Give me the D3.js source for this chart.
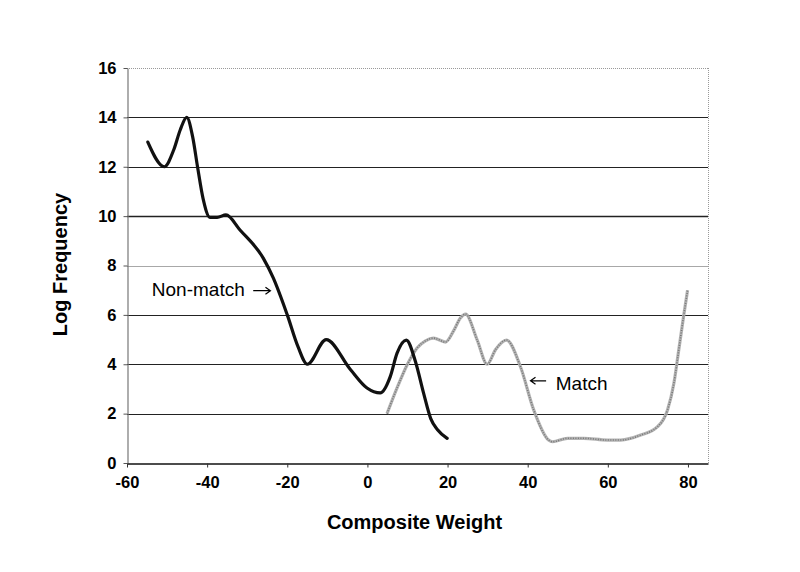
<!DOCTYPE html>
<html>
<head>
<meta charset="utf-8">
<script src="https://cdn.jsdelivr.net/npm/d3@7"></script>
<style>
  html, body { margin: 0; padding: 0; background: #fff; }
  svg { display: block; }
  text { font-family: "Liberation Sans", Arial, Helvetica, sans-serif; }
</style>
</head>
<body>
<svg id="chart" width="800" height="572"></svg>
<script>
// ---- Data ----
const xTicks = [-60, -40, -20, 0, 20, 40, 60, 80];
const yTicks = [0, 2, 4, 6, 8, 10, 12, 14, 16];

const nonMatch = [
  [-54.8, 13.0], [-50.7, 12.0], [-48.3, 12.7], [-46.7, 13.5], [-45.1, 14.0],
  [-43.6, 13.2], [-42.4, 12.0], [-41.0, 10.7], [-39.3, 9.95], [-37.5, 9.95],
  [-35.3, 10.05], [-31.8, 9.44], [-26.0, 8.3], [-23.5, 7.5], [-20.0, 6.0],
  [-17.3, 4.7], [-15.0, 4.0], [-10.3, 5.0], [-4.3, 3.8], [-0.1, 3.04],
  [3.2, 2.84], [5.7, 3.5], [7.4, 4.45], [9.7, 4.98], [12.0, 4.1],
  [14.0, 2.84], [15.8, 1.8], [17.5, 1.35], [19.9, 1.0]
];

const match = [
  [4.9, 2.0], [7.4, 3.04], [9.9, 3.97], [12.4, 4.66], [14.5, 4.95],
  [16.5, 5.06], [19.5, 4.9], [21.5, 5.35], [23.2, 5.87], [24.5, 6.03],
  [27.4, 4.98], [29.9, 4.0], [32.0, 4.6], [34.7, 4.98], [38.2, 3.9],
  [41.5, 2.15], [45.2, 0.93], [46.2, 0.86], [49.9, 1.0], [54.0, 1.0],
  [59.9, 0.93], [63.2, 0.93], [68.2, 1.13], [72.4, 1.47], [74.9, 2.15],
  [76.5, 3.24], [77.7, 4.58], [78.9, 5.93], [79.9, 7.0]
];

// annotation labels in data units
const labelNonMatch = { x: -53.8, y: 6.75, text: "Non-match", arrowFrom: -28.5, arrowTo: -24.2, arrowY: 6.98 };
const labelMatch = { x: 47.0, y: 2.95, text: "Match", arrowFrom: 44.6, arrowTo: 40.7, arrowY: 3.33 };

// ---- Layout ----
const svg = d3.select("#chart");
const W = 800, H = 572;
const margin = { left: 127, top: 68, right: 92, bottom: 109 };
const iw = W - margin.left - margin.right;
const ih = H - margin.top - margin.bottom;

const x = d3.scaleLinear().domain([-60, 85]).range([margin.left, margin.left + iw]);
const y = d3.scaleLinear().domain([0, 16]).range([margin.top + ih, margin.top]);

// Gridlines
const grid = svg.append("g");
grid.selectAll("line.g")
  .data(yTicks.filter(t => t > 0 && t < 16))
  .enter().append("line")
  .attr("x1", x(-60)).attr("x2", x(85))
  .attr("y1", d => Math.round(y(d)) + 0.5).attr("y2", d => Math.round(y(d)) + 0.5)
  .attr("stroke", d => d === 8 ? "#a8a8a8" : "#222")
  .attr("stroke-width", d => d === 10 ? 1.4 : 1);

// Top and right dotted borders
svg.append("line")
  .attr("x1", x(-60)).attr("x2", x(85))
  .attr("y1", Math.round(y(16)) + 0.5).attr("y2", Math.round(y(16)) + 0.5)
  .attr("stroke", "#999").attr("stroke-dasharray", "1,1");
svg.append("line")
  .attr("x1", Math.round(x(85)) + 0.5).attr("x2", Math.round(x(85)) + 0.5)
  .attr("y1", y(16)).attr("y2", y(0))
  .attr("stroke", "#999").attr("stroke-dasharray", "1,1");

const fmt = d => String(d);

// Y axis
const yAxis = d3.axisLeft(y).tickValues(yTicks).tickSizeInner(4).tickSizeOuter(0).tickPadding(7)
  .tickFormat(fmt);
const gy = svg.append("g").attr("transform", `translate(${Math.round(x(-60)) + 0.5},0)`).call(yAxis);
gy.select(".domain").attr("stroke", "#777").attr("stroke-width", 1.2);
gy.selectAll(".tick line").attr("stroke", "#555");
gy.selectAll(".tick text").attr("font-size", 16.5).attr("font-weight", "bold").attr("fill", "#000")
  .attr("font-family", "Liberation Sans, Arial, sans-serif");

// X axis
const xAxis = d3.axisBottom(x).tickValues(xTicks).tickSizeInner(4).tickSizeOuter(0).tickPadding(9)
  .tickFormat(fmt);
const gx = svg.append("g").attr("transform", `translate(0,${Math.round(y(0)) + 0.5})`).call(xAxis);
gx.select(".domain").attr("stroke", "#111").attr("stroke-width", 1.6);
gx.selectAll(".tick line").attr("stroke", "#333");
gx.selectAll(".tick text").attr("font-size", 16.5).attr("font-weight", "bold").attr("fill", "#000")
  .attr("font-family", "Liberation Sans, Arial, sans-serif");

// Axis titles
svg.append("text")
  .attr("x", (x(-60) + x(85)) / 2 - 3).attr("y", 529)
  .attr("text-anchor", "middle").attr("font-size", 20).attr("font-weight", "bold")
  .text("Composite Weight");
svg.append("text")
  .attr("transform", `translate(67, ${(y(0) + y(16)) / 2 - 1}) rotate(-90)`)
  .attr("text-anchor", "middle").attr("font-size", 20).attr("font-weight", "bold")
  .text("Log Frequency");

// Lines
const line = d3.line().x(d => x(d[0])).y(d => y(d[1])).curve(d3.curveMonotoneX);

// Match: grainy gray line
svg.append("path").datum(match).attr("d", line)
  .attr("fill", "none").attr("stroke", "#b4b4b4").attr("stroke-width", 3.2)
  .attr("stroke-linejoin", "round");
svg.append("path").datum(match).attr("d", line)
  .attr("fill", "none").attr("stroke", "#777").attr("stroke-width", 1.6)
  .attr("stroke-dasharray", "1,1.5");

// Non-match: black line
svg.append("path").datum(nonMatch).attr("d", line)
  .attr("fill", "none").attr("stroke", "#111").attr("stroke-width", 3.2)
  .attr("stroke-linejoin", "round").attr("stroke-linecap", "round");

// Annotations
function annotate(a) {
  svg.append("text").attr("x", x(a.x)).attr("y", y(a.y))
    .attr("font-size", 19).attr("fill", "#000").text(a.text);
  const x0 = x(a.arrowFrom), x1 = x(a.arrowTo), yy = y(a.arrowY);
  const dir = x1 > x0 ? 1 : -1;
  svg.append("path")
    .attr("d", `M${x0},${yy}L${x1},${yy}M${x1 - dir * 5},${yy - 3.5}L${x1},${yy}L${x1 - dir * 5},${yy + 3.5}`)
    .attr("fill", "none").attr("stroke", "#000").attr("stroke-width", 1.2);
}
annotate(labelNonMatch);
annotate(labelMatch);
</script>
</body>
</html>
